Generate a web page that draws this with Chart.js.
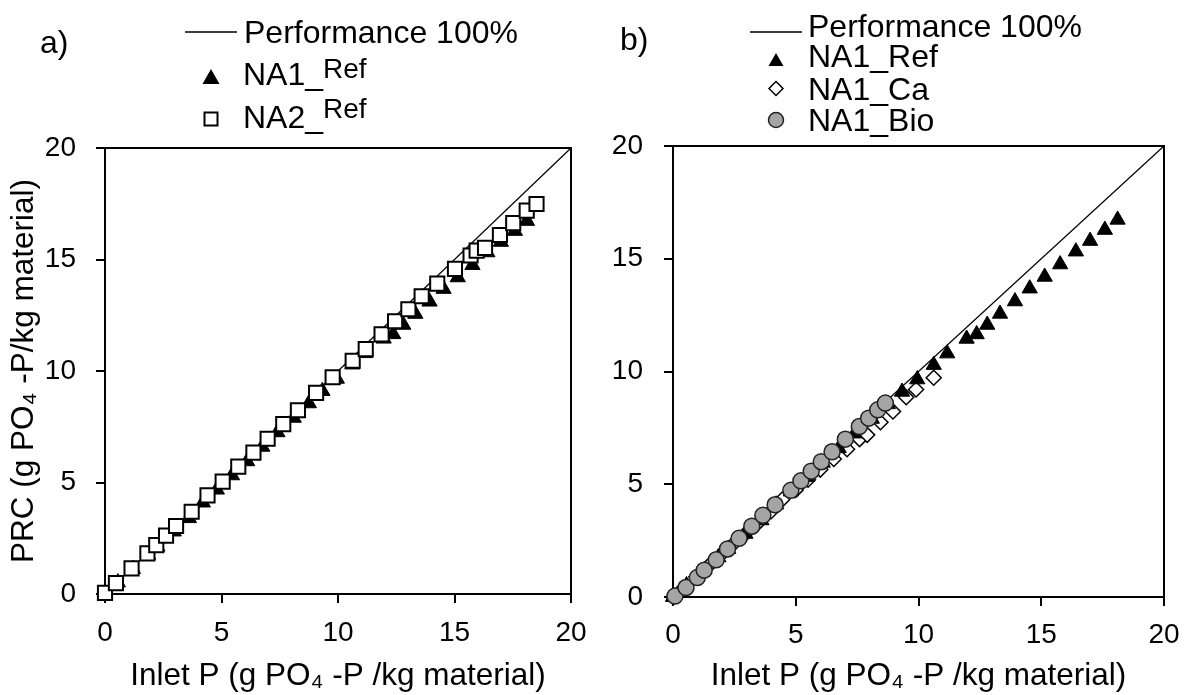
<!DOCTYPE html>
<html><head><meta charset="utf-8">
<script src="https://cdn.jsdelivr.net/npm/chart.js@4.4.1/dist/chart.umd.min.js"></script>
<style>
html,body{margin:0;padding:0;background:#fff;}
#wrap{position:relative;width:1184px;height:695px;overflow:hidden;background:#fff;}
.c{position:absolute;top:0;width:592px;height:695px;}
#legend{position:absolute;left:0;top:0;pointer-events:none;font-family:'Liberation Sans',Arial,sans-serif;}
</style></head><body>
<div id="wrap">
<div class="c" style="left:0"><canvas id="ca" width="592" height="695"></canvas></div>
<div class="c" style="left:592px"><canvas id="cb" width="592" height="695"></canvas></div>
<svg id="legend" width="1184" height="695" xmlns="http://www.w3.org/2000/svg">
  <g font-size="32" fill="#000">
    <text x="40" y="53">a)</text>
    <line x1="185" y1="32" x2="237" y2="32" stroke="#000" stroke-width="1.3"/>
    <text x="244" y="43">Performance 100%</text>
    <polygon points="211,69 219.5,84 202.5,84" fill="#000"/>
    <text x="243" y="85">NA1_<tspan font-size="28" dy="-7">Ref</tspan></text>
    <rect x="204.5" y="112.5" width="13" height="13" fill="#fff" stroke="#000" stroke-width="2"/>
    <text x="243" y="128">NA2_<tspan font-size="28" dy="-10">Ref</tspan></text>

    <text x="620" y="50">b)</text>
    <line x1="750" y1="32" x2="802" y2="32" stroke="#000" stroke-width="1.3"/>
    <text x="808" y="37">Performance 100%</text>
    <polygon points="776,53 783.5,66 768.5,66" fill="#000"/>
    <text x="808" y="67">NA1_Ref</text>
    <polygon points="776,81.5 783,88.5 776,95.5 769,88.5" fill="#fff" stroke="#000" stroke-width="1.5"/>
    <text x="808" y="100">NA1_Ca</text>
    <circle cx="776" cy="120" r="7.5" fill="#a5a5a5" stroke="#222" stroke-width="1.5"/>
    <text x="808" y="131">NA1_Bio</text>
  </g>
</svg>
</div>
<script>
const FONT = "'Liberation Sans', Arial, sans-serif";
const axisTicks = [0, 5, 10, 15, 20];
const perfX = [0, 20];
const perfY = [0, 20];

const na2RefX = [0.0,0.47,1.14,1.82,2.2,2.62,3.05,3.72,4.4,5.05,5.72,6.37,6.98,7.65,8.28,9.06,9.77,10.63,11.19,11.87,12.45,13.02,13.59,14.26,15.02,15.69,15.95,16.31,16.95,17.52,18.1,18.52];
const na2RefY = [0.05,0.49,1.15,1.82,2.19,2.62,3.05,3.69,4.42,5.04,5.71,6.34,6.96,7.62,8.24,9.02,9.72,10.46,10.98,11.64,12.23,12.77,13.35,13.92,14.58,15.18,15.4,15.52,16.1,16.63,17.19,17.49];

const na1RefX = [0.0,0.55,1.2,1.85,2.25,2.95,3.6,4.2,4.8,5.45,6.1,6.75,7.4,8.1,8.75,9.33,9.95,10.62,11.17,11.96,12.37,12.8,13.32,13.93,14.53,15.14,15.77,16.41,16.99,17.59,18.11];
const na1RefY = [0.0,0.52,1.12,1.76,2.12,2.8,3.4,4.1,4.68,5.32,5.95,6.6,7.25,7.9,8.55,9.1,9.65,10.29,10.8,11.45,11.65,12.07,12.56,13.11,13.68,14.2,14.75,15.32,15.79,16.28,16.73];

const na1CaX = [0.02,0.45,0.95,1.45,1.95,2.45,2.95,3.5,4.0,4.45,5.0,5.5,6.0,6.55,7.09,7.6,7.91,8.45,8.96,9.5,9.9,10.62];
const na1CaY = [0.0,0.42,0.9,1.38,1.86,2.34,2.8,3.32,3.8,4.32,4.75,5.2,5.65,6.12,6.55,7.0,7.19,7.75,8.23,8.86,9.2,9.72];

const na1BioX = [0.08,0.53,0.99,1.27,1.76,2.22,2.69,3.21,3.66,4.16,4.8,5.21,5.63,6.04,6.48,7.02,7.59,7.97,8.34,8.65];
const na1BioY = [0.04,0.42,0.86,1.19,1.65,2.13,2.6,3.14,3.62,4.09,4.73,5.15,5.58,6.0,6.44,7.0,7.56,7.93,8.3,8.6];

const pts = (xs, ys) => xs.map((x, i) => ({x, y: ys[i]}));

const frame = {
  id: 'frame',
  beforeDatasetsDraw(chart) {
    const {ctx, chartArea: a} = chart;
    ctx.save();
    ctx.strokeStyle = '#000';
    ctx.lineWidth = 2;
    ctx.strokeRect(a.left, a.top, a.right - a.left, a.bottom - a.top);
    ctx.restore();
  }
};

function perfDataset() {
  return {label: 'Performance 100%', data: pts(perfX, perfY), showLine: true, borderColor: '#000',
    borderWidth: 1.2, pointRadius: 0, fill: false, clip: false};
}
function triDataset() {
  return {label: 'NA1_Ref', data: pts(na1RefX, na1RefY), pointStyle: 'triangle', pointRadius: 8.8,
    backgroundColor: '#000', borderColor: '#000', borderWidth: 1, clip: false};
}

function makeScales(yTitle, yWidth, xHeight, yPad, xPad) {
  const tickFont = {size: 28, family: FONT};
  const grid = {display: true, drawOnChartArea: false, drawTicks: true, tickLength: 9, color: '#000', lineWidth: 2};
  return {
    x: {
      type: 'linear', min: 0, max: 20,
      afterBuildTicks: s => { s.ticks = axisTicks.map(v => ({value: v})); },
      ticks: {color: '#000', font: tickFont, padding: xPad, maxRotation: 0, autoSkip: false},
      grid: grid, border: {display: false},
      title: {display: true, text: 'Inlet P (g PO\u2084 -P /kg material)', color: '#000',
        font: {size: 31.5, family: FONT}, padding: {top: 0, bottom: 0}},
      afterFit: s => { s.height = xHeight; s.paddingLeft = 0; s.paddingRight = 0; }
    },
    y: {
      type: 'linear', min: 0, max: 20,
      afterBuildTicks: s => { s.ticks = axisTicks.map(v => ({value: v})); },
      ticks: {color: '#000', font: tickFont, padding: yPad, autoSkip: false},
      grid: grid, border: {display: false},
      title: {display: !!yTitle, text: yTitle || '', color: '#000',
        font: {size: 31.5, family: FONT}, padding: {top: 5, bottom: 0}},
      afterFit: s => { s.width = yWidth; s.paddingTop = 0; s.paddingBottom = 0; }
    }
  };
}

const common = {
  responsive: false, animation: false, devicePixelRatio: 1,
  plugins: {legend: {display: false}, tooltip: {enabled: false}},
  elements: {point: {hoverRadius: 0}}
};

new Chart(document.getElementById('ca'), {
  type: 'scatter',
  data: {datasets: [
    {label: 'NA2_Ref', data: pts(na2RefX, na2RefY), pointStyle: 'rect', pointRadius: 10,
      backgroundColor: '#fff', borderColor: '#000', borderWidth: 2, clip: false},
    triDataset(),
    perfDataset()
  ]},
  options: Object.assign({}, common, {
    layout: {padding: {left: 0, top: 148, right: 21, bottom: 0}},
    scales: makeScales('PRC (g PO\u2084 -P/kg material)', 105, 101, 20, 13)
  }),
  plugins: [frame]
});

new Chart(document.getElementById('cb'), {
  type: 'scatter',
  data: {datasets: [
    {label: 'NA1_Bio', data: pts(na1BioX, na1BioY), pointStyle: 'circle', pointRadius: 8,
      backgroundColor: '#a5a5a5', borderColor: '#222', borderWidth: 1.5, clip: false},
    triDataset(),
    {label: 'NA1_Ca', data: pts(na1CaX, na1CaY), pointStyle: 'rectRot', pointRadius: 7.5,
      backgroundColor: '#fff', borderColor: '#000', borderWidth: 1.5, clip: false},
    perfDataset()
  ]},
  options: Object.assign({}, common, {
    layout: {padding: {left: 0, top: 146, right: 20, bottom: 0}},
    scales: makeScales(null, 81, 98, 21, 12)
  }),
  plugins: [frame]
});
</script>
</body></html>
